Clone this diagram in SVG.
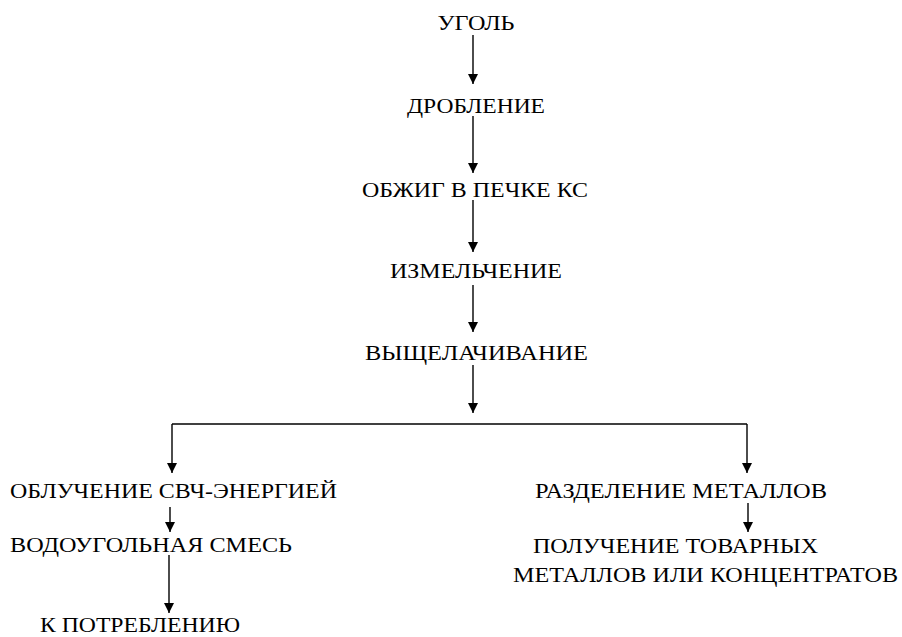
<svg xmlns="http://www.w3.org/2000/svg" width="902" height="637" viewBox="0 0 902 637">
  <style>
    .lbl { font-family: "Liberation Serif", "Times New Roman", serif; font-size: 22px; fill: #000; }
    .mid { text-anchor: middle; }
    .wire { stroke: #000; stroke-width: 1.4; fill: none; }
    .arr { marker-end: url(#head); }
  </style>
  <defs>
    <marker id="head" viewBox="0 0 10 10" refX="10" refY="5" markerWidth="10" markerHeight="11" markerUnits="userSpaceOnUse" orient="auto">
      <path d="M0,0 L10,5 L0,10 Z" fill="#000"/>
    </marker>
  </defs>

  <rect width="902" height="637" fill="#fff"/>

  <!-- flow arrows -->
  <g id="connectors">
    <line class="wire arr" x1="473" y1="35" x2="473" y2="84"/>
    <line class="wire arr" x1="473" y1="116" x2="473" y2="173"/>
    <line class="wire arr" x1="473" y1="200" x2="473" y2="252"/>
    <line class="wire arr" x1="473" y1="285" x2="473" y2="332"/>
    <line class="wire arr" x1="473" y1="365" x2="473" y2="413"/>
    <line class="wire" x1="172" y1="424" x2="747" y2="424"/>
    <line class="wire arr" x1="172" y1="424" x2="172" y2="473"/>
    <line class="wire arr" x1="747" y1="424" x2="747" y2="473"/>
    <line class="wire arr" x1="170" y1="507" x2="170" y2="532"/>
    <line class="wire arr" x1="748" y1="503" x2="748" y2="532"/>
    <line class="wire arr" x1="169" y1="555" x2="169" y2="613"/>
  </g>

  <!-- process steps -->
  <g id="n-coal"><text class="lbl mid" x="476" y="30" textLength="77" lengthAdjust="spacingAndGlyphs">УГОЛЬ</text></g>
  <g id="n-crushing"><text class="lbl mid" x="476" y="113" textLength="138" lengthAdjust="spacingAndGlyphs">ДРОБЛЕНИЕ</text></g>
  <g id="n-roasting"><text class="lbl mid" x="475" y="197" textLength="226" lengthAdjust="spacingAndGlyphs">ОБЖИГ В ПЕЧКЕ КС</text></g>
  <g id="n-grinding"><text class="lbl mid" x="476" y="278" textLength="172" lengthAdjust="spacingAndGlyphs">ИЗМЕЛЬЧЕНИЕ</text></g>
  <g id="n-leaching"><text class="lbl mid" x="476.5" y="360" textLength="223" lengthAdjust="spacingAndGlyphs">ВЫЩЕЛАЧИВАНИЕ</text></g>
  <g id="n-microwave"><text class="lbl" x="10" y="498" textLength="327" lengthAdjust="spacingAndGlyphs">ОБЛУЧЕНИЕ СВЧ-ЭНЕРГИЕЙ</text></g>
  <g id="n-slurry"><text class="lbl" x="10" y="552" textLength="282" lengthAdjust="spacingAndGlyphs">ВОДОУГОЛЬНАЯ СМЕСЬ</text></g>
  <g id="n-consumption"><text class="lbl" x="40" y="632" textLength="200" lengthAdjust="spacingAndGlyphs">К ПОТРЕБЛЕНИЮ</text></g>
  <g id="n-separation"><text class="lbl" x="535" y="498" textLength="292" lengthAdjust="spacingAndGlyphs">РАЗДЕЛЕНИЕ МЕТАЛЛОВ</text></g>
  <g id="n-products">
    <text class="lbl" x="533" y="553" textLength="285" lengthAdjust="spacingAndGlyphs">ПОЛУЧЕНИЕ ТОВАРНЫХ</text>
    <text class="lbl" x="513" y="582" textLength="385" lengthAdjust="spacingAndGlyphs">МЕТАЛЛОВ ИЛИ КОНЦЕНТРАТОВ</text>
  </g>
</svg>
